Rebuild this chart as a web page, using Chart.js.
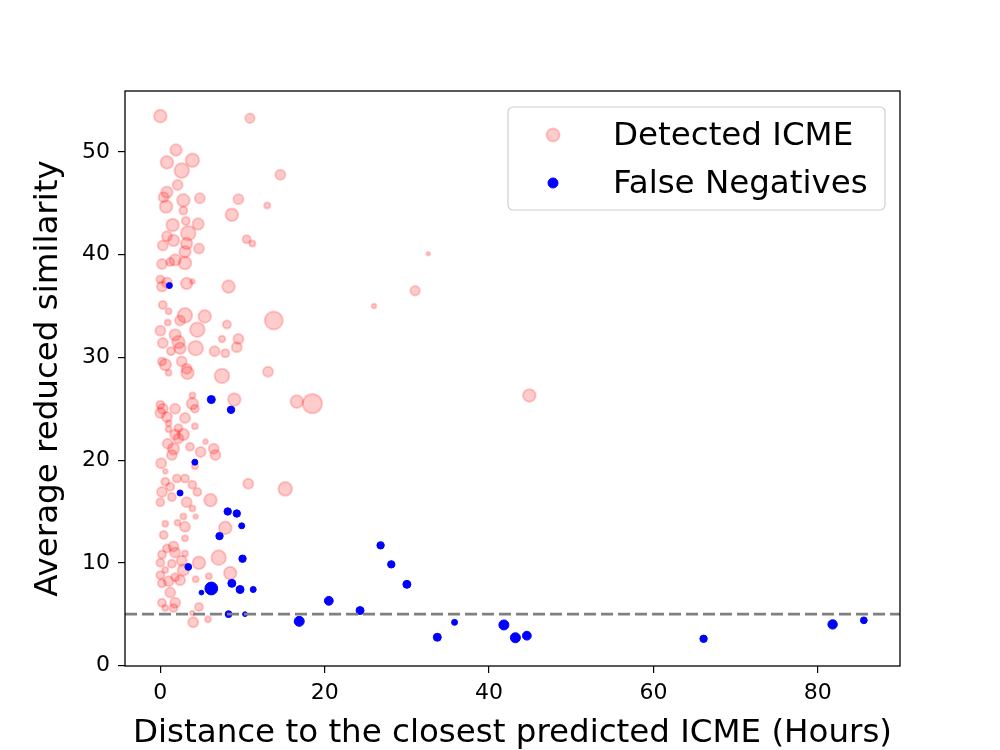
<!DOCTYPE html>
<html>
<head>
<meta charset="utf-8">
<script src="https://cdn.jsdelivr.net/npm/chart.js@4.4.1/dist/chart.umd.min.js"></script>
<style>
  html, body { margin: 0; padding: 0; background: #fff; }
  canvas { display: block; }
</style>
</head>
<body>
<canvas id="chart" width="1000" height="750"></canvas>
<script>
// Detected ICME: distance (hours), similarity, marker size
const detX = [
  0, 10.9, 1.9, 0.8, 3.9, 2.6, 14.6, 2.1, 0.8, 0.4,
  2.8, 4.8, 9.5, 13.0, 0.7, 2.8, 8.7, 1.5, 3.1, 4.6,
  3.4, 0.8, 1.6, 10.5, 11.2, 3.2, 0.3, 4.7, 3.0, 1.8,
  3.0, 0.2, 1.2, 0, 3.2, 8.3, 3.9, 0.8,
  0.2, 0.3, 1.0, 3.0, 5.4, 13.8, 2.4, 0.9, 8.1, 4.5,
  0, 1.8, 7.5, 9.5, 2.2, 0.3, 4.3, 2.4, 9.3, 6.6,
  7.9, 1.3, 0.2, 0.6, 2.6, 3.2, 3.3, 1.0, 7.5, 13.1,
  9.0, 3.9, 0, 0.3, 1.8, 3.9, 4.2, 0, 0.8, 3.0,
  1.0, 4.2, 2.2, 1.0, 1.8, 2.8, 2.2, 5.5, 0.9, 3.6,
  1.6, 6.5, 4.9, 6.7, 1.4, 0.1, 4.2, 0.6,
  10.7, 15.2, 0.6, 2.0, 3.0, 3.9, 4.5, 1.2, 0.2, 0,
  1.4, 3.2, 6.1, 3.9, 0.6, 2.1, 2.8, 4.3, 7.9, 3.0,
  0.4, 3.0, 1.6, 0.8, 3.0, 0.2, 1.8, 4.7, 7.1, 0,
  1.4, 2.6, 2.8, 0.6, 0, 1.8, 2.4, 4.3, 5.9, 8.5,
  0.2, 1.0, 1.2, 0.2, 1.8, 1.6, 0.6, 4.7, 3.9, 5.8,
  4.0,
  16.6, 18.5, 44.9, 32.6, 31.0, 26.0
];
const detY = [
  53.5, 53.3, 50.2, 49.0, 49.2, 48.2, 47.8, 46.8, 46.1, 45.6,
  45.3, 45.5, 45.4, 44.8, 44.7, 44.3, 43.9, 42.9, 43.3, 43.0,
  42.1, 41.8, 41.4, 41.5, 41.1, 41.1, 40.9, 40.6, 40.3, 39.5,
  39.2, 39.1, 39.3, 37.6, 37.2, 36.9, 37.4, 37.3,
  36.9, 35.1, 34.5, 34.1, 34.0, 33.6, 33.6, 33.4, 33.2, 32.7,
  32.6, 32.2, 31.8, 31.8, 31.5, 31.4, 30.9, 30.9, 31.0, 30.6,
  30.4, 30.6, 29.6, 29.3, 29.6, 28.9, 28.5, 28.5, 28.2, 28.6,
  25.9, 26.3, 25.4, 25.0, 25.0, 25.5, 25.0, 24.6, 24.2, 24.1,
  23.6, 23.3, 23.1, 23.0, 22.5, 22.5, 22.1, 21.8, 21.6, 21.3,
  21.1, 21.1, 20.8, 20.5, 20.5, 19.7, 19.4, 18.9,
  17.7, 17.2, 17.9, 18.2, 18.2, 17.6, 16.9, 17.4, 16.9, 15.9,
  16.4, 15.9, 16.1, 15.3, 13.8, 13.9, 14.5, 14.5, 13.4, 13.5,
  12.7, 12.4, 11.6, 11.4, 10.9, 10.8, 11.0, 10.0, 10.5, 10.0,
  9.9, 10.2, 9.3, 9.3, 8.8, 8.6, 8.3, 8.4, 8.7, 9.0,
  8.0, 8.2, 7.1, 6.1, 6.1, 5.6, 5.6, 5.7, 5.1, 4.5,
  4.2,
  25.7, 25.5, 26.3, 40.1, 36.5, 35.0
];
const detSize = [
  7.3, 5.7, 6.7, 7.3, 7.7, 8.3, 6, 6, 6.7, 6,
  7.3, 6, 6, 4, 7.3, 5, 7.3, 7.3, 5, 6.7,
  8.3, 6, 6.7, 5, 4, 6.7, 6, 6, 6.7, 6.7,
  7.3, 6, 5, 5, 6.7, 7.3, 3.3, 6,
  6, 5, 4, 8.3, 7.3, 10, 6, 4, 5, 8.3,
  6, 6.7, 4.3, 6, 7.3, 6, 8.3, 6.7, 6, 6,
  5, 5, 5, 6.7, 6, 6, 7.3, 4, 8.3, 6,
  7.3, 4, 5, 6, 6, 6.7, 5, 6, 6, 6,
  4, 4, 5, 4, 6, 6.7, 6, 3.3, 6, 5,
  6.7, 6, 6, 6, 6, 6, 4, 3.3,
  6, 7.8, 5, 5, 5, 5, 5, 5, 6, 5,
  5, 6, 7.3, 4, 4, 4, 4, 3.3, 7.3, 6,
  5, 4, 6, 5, 4, 5, 6, 7.3, 8.3, 5,
  5, 6, 6.7, 4, 5, 5, 6, 4, 4, 7.3,
  5, 6, 6, 5, 6, 5, 4, 5, 3.3, 4,
  6,
  7.3, 10.7, 7.3, 2.7, 5.7, 3.3
];

// False negatives
const fnX = [1.1, 6.2, 8.6, 4.2, 2.4, 8.2, 9.3, 9.9, 7.2, 10.0, 3.4, 8.7, 9.7, 11.3, 6.2, 5.0,
  8.3, 10.3, 26.8, 28.1, 30.0, 20.5, 24.3, 16.9, 33.7, 35.8, 41.8, 43.2, 44.6, 66.1, 81.8, 85.6];
const fnY = [37.0, 25.9, 24.9, 19.8, 16.8, 15.0, 14.8, 13.6, 12.6, 10.4, 9.6, 8.0, 7.4, 7.4, 7.5, 7.1,
  5.0, 5.0, 11.7, 9.85, 7.9, 6.3, 5.35, 4.3, 2.75, 4.2, 3.95, 2.7, 2.9, 2.6, 4.0, 4.4];
const fnSize = [3.3, 4.3, 4, 3.3, 3.3, 4, 4, 3.3, 4, 4, 3.7, 4.3, 4.3, 3.3, 6.7, 2.7,
  3.7, 2.7, 4, 4, 4.3, 4.7, 4.3, 5.3, 4.3, 3.3, 5.3, 5.3, 4.7, 4, 5, 3.7];

const xTicks = [0, 20, 40, 60, 80];
const yTicks = [0, 10, 20, 30, 40, 50];
const threshold = 5;

const FONT = "'DejaVu Sans', 'Liberation Sans', sans-serif";

// dashed threshold line, axes frame and legend box
const overlay = {
  id: 'overlay',
  afterDatasetsDraw(chart) {
    const { ctx, chartArea: a, scales: { y } } = chart;
    const py = y.getPixelForValue(threshold);
    ctx.save();
    ctx.strokeStyle = '#808080';
    ctx.lineWidth = 2.6;
    ctx.setLineDash([12, 5]);
    ctx.beginPath();
    ctx.moveTo(a.left, py);
    ctx.lineTo(a.right, py);
    ctx.stroke();
    ctx.restore();
  },
  afterDraw(chart) {
    const { ctx, chartArea: a } = chart;
    ctx.save();
    ctx.strokeStyle = '#000';
    ctx.lineWidth = 1.3;
    ctx.strokeRect(a.left, a.top, a.right - a.left, a.bottom - a.top);

    const w = 377, h = 103;
    const bx = a.right - 15 - w, by = a.top + 16, r = 5;
    ctx.beginPath();
    ctx.moveTo(bx + r, by);
    ctx.lineTo(bx + w - r, by);
    ctx.arcTo(bx + w, by, bx + w, by + r, r);
    ctx.lineTo(bx + w, by + h - r);
    ctx.arcTo(bx + w, by + h, bx + w - r, by + h, r);
    ctx.lineTo(bx + r, by + h);
    ctx.arcTo(bx, by + h, bx, by + h - r, r);
    ctx.lineTo(bx, by + r);
    ctx.arcTo(bx, by, bx + r, by, r);
    ctx.closePath();
    ctx.fillStyle = 'rgba(255,255,255,0.8)';
    ctx.fill();
    ctx.strokeStyle = '#d0d0d0';
    ctx.lineWidth = 1.2;
    ctx.stroke();

    const rows = [
      { ds: chart.data.datasets[0], r: 6.5, bw: 2, cy: by + 28, base: by + 38 },
      { ds: chart.data.datasets[1], r: 5, bw: 1, cy: by + 76, base: by + 86 }
    ];
    ctx.font = '32.5px ' + FONT;
    ctx.textBaseline = 'alphabetic';
    ctx.textAlign = 'left';
    rows.forEach(row => {
      ctx.beginPath();
      ctx.arc(bx + 45, row.cy, row.r, 0, Math.PI * 2);
      ctx.fillStyle = row.ds.backgroundColor;
      ctx.fill();
      ctx.lineWidth = row.bw;
      ctx.strokeStyle = row.ds.borderColor;
      ctx.stroke();
      ctx.fillStyle = '#000';
      ctx.fillText(row.ds.label, bx + 105, row.base);
    });
    ctx.restore();
  }
};

const ctx = document.getElementById('chart').getContext('2d');
const chart = new Chart(ctx, {
  type: 'scatter',
  data: {
    datasets: [{
      label: 'Detected ICME',
      data: detX.map((x, i) => ({ x: x, y: detY[i] })),
      backgroundColor: 'rgba(255, 0, 0, 0.2)',
      borderColor: 'rgba(255, 0, 0, 0.2)',
      borderWidth: 2,
      pointRadius: c => Math.max(detSize[c.dataIndex] - 1, 1.5),
      order: 2
    }, {
      label: 'False Negatives',
      data: fnX.map((x, i) => ({ x: x, y: fnY[i] })),
      backgroundColor: '#0000ff',
      borderColor: '#0000ff',
      borderWidth: 1,
      pointRadius: c => Math.max(fnSize[c.dataIndex] - 0.3, 1.5),
      order: 1
    }]
  },
  options: {
    responsive: false,
    animation: false,
    devicePixelRatio: 1,
    layout: { padding: { top: 91, right: 100, left: 0, bottom: 0 } },
    plugins: {
      legend: { display: false },
      tooltip: { enabled: false }
    },
    scales: {
      x: {
        type: 'linear',
        min: -4.3,
        max: 90,
        afterBuildTicks: s => { s.ticks = xTicks.map(v => ({ value: v })); },
        afterFit: s => { s.height = 84; },
        ticks: { font: { family: FONT, size: 22 }, color: '#000', padding: 7, autoSkip: false, maxRotation: 0 },
        grid: { display: true, drawOnChartArea: false, drawTicks: true, tickLength: 7, color: '#000', lineWidth: 1.2 },
        border: { display: false },
        title: {
          display: true,
          text: 'Distance to the closest predicted ICME (Hours)',
          font: { family: FONT, size: 32.5, lineHeight: 1 },
          color: '#000',
          padding: { top: 0, bottom: 0 }
        }
      },
      y: {
        type: 'linear',
        min: -0.05,
        max: 55.95,
        afterBuildTicks: s => { s.ticks = yTicks.map(v => ({ value: v })); },
        afterFit: s => { s.width = 125; },
        ticks: { font: { family: FONT, size: 22 }, color: '#000', padding: 8, autoSkip: false },
        grid: { display: true, drawOnChartArea: false, drawTicks: true, tickLength: 7, color: '#000', lineWidth: 1.2 },
        border: { display: false },
        title: {
          display: true,
          text: 'Average reduced similarity',
          font: { family: FONT, size: 32.5, lineHeight: 1 },
          color: '#000',
          padding: { top: 32, bottom: 0 }
        }
      }
    }
  },
  plugins: [overlay]
});
</script>
</body>
</html>
